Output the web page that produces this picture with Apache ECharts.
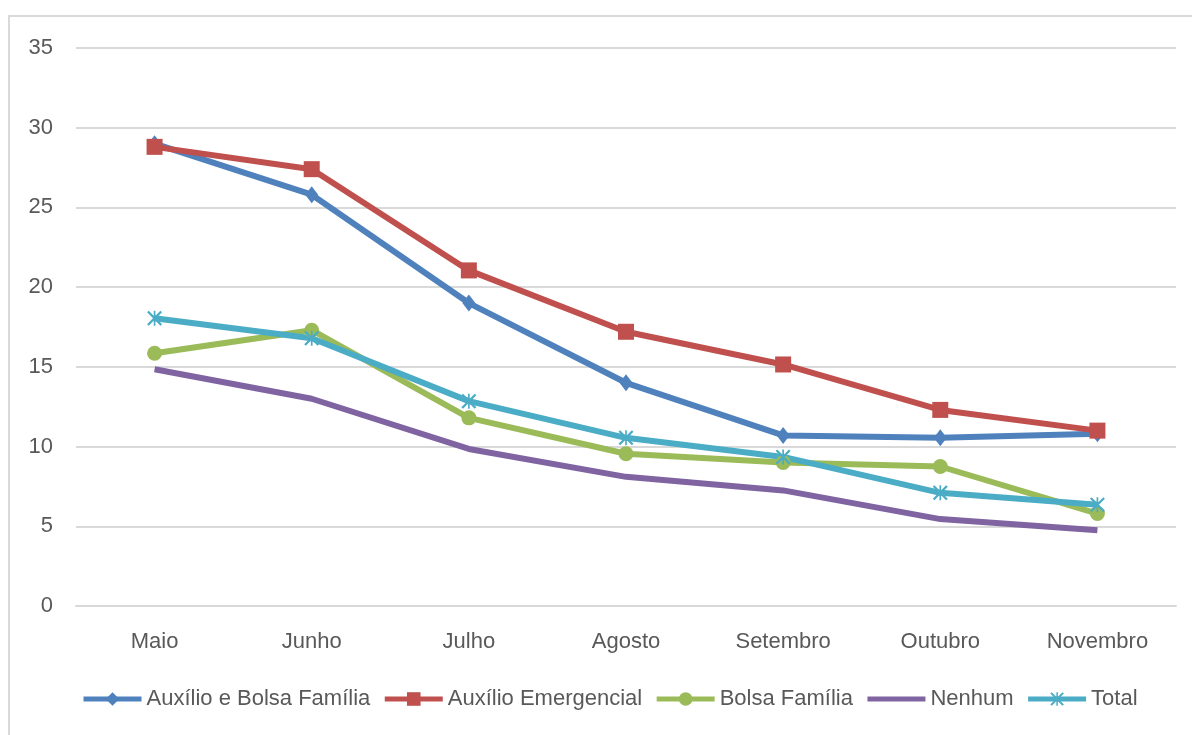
<!DOCTYPE html>
<html>
<head>
<meta charset="utf-8">
<script src="https://cdn.jsdelivr.net/npm/echarts@6/dist/echarts.min.js"></script>
<style>
html,body{margin:0;padding:0;background:#fff;}
#chart{width:1192px;height:735px;}
</style>
</head>
<body>
<div id="chart"></div>
<script>
const categories = ['Maio', 'Junho', 'Julho', 'Agosto', 'Setembro', 'Outubro', 'Novembro'];
const seriesNames = ['Auxílio e Bolsa Família', 'Auxílio Emergencial', 'Bolsa Família', 'Nenhum', 'Total'];
const auxilioBolsa = [29.0, 25.8, 19.0, 14.0, 10.7, 10.55, 10.8];
const auxilioEmergencial = [28.8, 27.4, 21.05, 17.2, 15.15, 12.3, 11.0];
const bolsaFamilia = [15.85, 17.3, 11.8, 9.55, 9.0, 8.75, 5.8];
const nenhum = [14.85, 13.0, 9.85, 8.1, 7.25, 5.45, 4.75];
const total = [18.05, 16.8, 12.85, 10.55, 9.35, 7.1, 6.35];
const yTicks = [0, 5, 10, 15, 20, 25, 30, 35];

const colors = ['#4F81BD', '#C0504D', '#9BBB59', '#8064A2', '#4BACC6'];
const asterisk = 'path://M9,0L11,0L11,20L9,20Z M1,2L3,0L19,18L17,20Z M17,0L19,2L3,20L1,18Z';

const chart = echarts.init(document.getElementById('chart'));
const FONT = 'Liberation Sans';
function mk(name, data, color, symbol, size) {
  return {
    name: name,
    type: 'line',
    data: data,
    symbol: symbol,
    symbolSize: size,
    showSymbol: symbol !== 'none',
    lineStyle: { color: color, width: 6 },
    itemStyle: { color: color },
    emphasis: { disabled: true },
    animation: false
  };
}
const legendData = seriesNames.map(function (n, i) {
  return i === 3 ? { name: n, itemStyle: { opacity: 0 } } : { name: n };
});
chart.setOption({
  backgroundColor: '#ffffff',
  animation: false,
  color: colors,
  graphic: [{
    type: 'rect',
    shape: { x: 9, y: 16, width: 1200, height: 800 },
    style: { fill: 'none', stroke: '#d9d9d9', lineWidth: 2 },
    silent: true
  }],
  grid: { left: 76, right: 16, top: 48, bottom: 129, containLabel: false },
  legend: {
    data: legendData,
    left: 81,
    top: 688,
    padding: 0,
    itemWidth: 58,
    itemHeight: 17,
    itemGap: 12,
    lineStyle: { width: 5 },
    textStyle: { color: '#595959', fontSize: 22, fontFamily: FONT }
  },
  xAxis: {
    type: 'category',
    data: categories,
    boundaryGap: true,
    axisLine: { show: true, lineStyle: { color: '#d9d9d9', width: 2 } },
    axisTick: { show: false },
    axisLabel: { color: '#595959', fontSize: 22, fontFamily: FONT, margin: 25 }
  },
  yAxis: {
    type: 'value',
    min: yTicks[0],
    max: yTicks[yTicks.length - 1],
    interval: 5,
    axisLine: { show: false },
    axisTick: { show: false },
    splitLine: { lineStyle: { color: '#d9d9d9', width: 2 } },
    axisLabel: { color: '#595959', fontSize: 22, fontFamily: FONT, margin: 23 }
  },
  series: [
    mk(seriesNames[0], auxilioBolsa, colors[0], 'diamond', [13, 17]),
    mk(seriesNames[1], auxilioEmergencial, colors[1], 'rect', 16),
    mk(seriesNames[2], bolsaFamilia, colors[2], 'circle', 15),
    mk(seriesNames[3], nenhum, colors[3], 'none', 0),
    mk(seriesNames[4], total, colors[4], asterisk, 15)
  ]
});
</script>
</body>
</html>
